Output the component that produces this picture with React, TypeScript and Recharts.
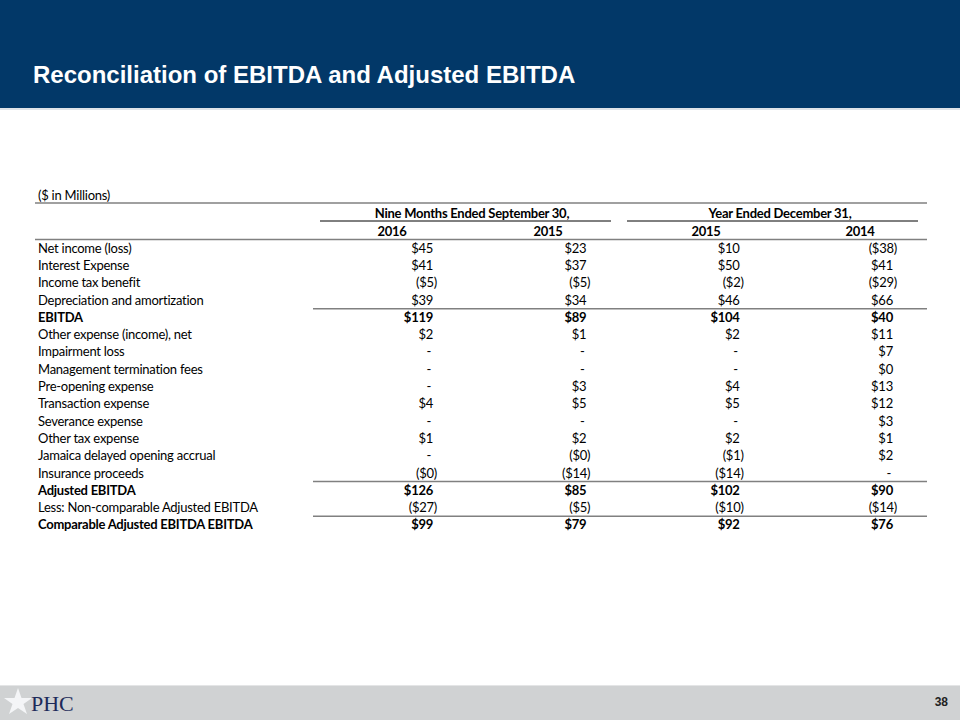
import React from "react";
import { ScatterChart, Scatter, XAxis, YAxis, ReferenceLine } from "recharts";

const rowLabels = [
  "Net income (loss)",
  "Interest Expense",
  "Income tax benefit",
  "Depreciation and amortization",
  "EBITDA",
  "Other expense (income), net",
  "Impairment loss",
  "Management termination fees",
  "Pre-opening expense",
  "Transaction expense",
  "Severance expense",
  "Other tax expense",
  "Jamaica delayed opening accrual",
  "Insurance proceeds",
  "Adjusted EBITDA",
  "Less: Non-comparable Adjusted EBITDA",
  "Comparable Adjusted EBITDA EBITDA",
];
const totalRows = ["EBITDA", "Adjusted EBITDA", "Comparable Adjusted EBITDA EBITDA"];
const ruledRows = ["EBITDA", "Adjusted EBITDA", "Comparable Adjusted EBITDA EBITDA"];

// $ in millions; null = "-"
const nineMonths2016 = [45, 41, -5, 39, 119, 2, null, null, null, 4, null, 1, null, -0.3, 126, -27, 99];
const nineMonths2015 = [23, 37, -5, 34, 89, 1, null, null, 3, 5, null, 2, -0.3, -14, 85, -5, 79];
const year2015 = [10, 50, -2, 46, 104, 2, null, null, 4, 5, null, 2, -1, -14, 102, -10, 92];
const year2014 = [-38, 41, -29, 66, 40, 11, 7, 0.3, 13, 12, 3, 1, 2, null, 90, -14, 76];

const columnYears = ["2016", "2015", "2015", "2014"];
const groupTitles = ["Nine Months Ended September 30,", "Year Ended December 31,"];
const unitsNote = "($ in Millions)";
const slideTitle = "Reconciliation of EBITDA and Adjusted EBITDA";
const pageNumber = "38";

const columns = [nineMonths2016, nineMonths2015, year2015, year2014];

const FONT = "Lato, 'Open Sans', sans-serif";
const FS = 13;
const LS = -0.25;

const fmt = (v: number | null) => {
  if (v == null) return "-";
  const r = Math.round(Math.abs(v));
  return v < 0 ? `($${r})` : `$${r}`;
};

const CellText = (props: any) => {
  const { cx, cy, payload } = props;
  const v = payload.value as number | null;
  const bold = payload.bold;
  if (v == null) {
    return (
      <text x={cx - 4} y={cy} dy="0.35em" textAnchor="middle" fontFamily={FONT} fontSize={FS} fill="#000">
        -
      </text>
    );
  }
  const neg = v < 0;
  return (
    <text
      x={neg ? cx + 4 : cx}
      y={cy}
      dy="0.35em"
      textAnchor="end"
      fontFamily={FONT}
      fontSize={FS}
      letterSpacing={LS}
      fontWeight={bold ? 700 : 400}
      fill="#000"
    >
      {fmt(v)}
    </text>
  );
};

const RowTick = (props: any) => {
  const { y, payload } = props;
  const bold = totalRows.includes(payload.value);
  return (
    <text
      x={38}
      y={y}
      dy="0.35em"
      textAnchor="start"
      fontFamily={FONT}
      fontSize={FS}
      letterSpacing={LS}
      fontWeight={bold ? 700 : 400}
      fill="#000"
    >
      {payload.value}
    </text>
  );
};

export default function App() {
  const seriesData = columns.map((col, ci) =>
    col.map((v, ri) => ({ col: ci, row: rowLabels[ri], value: v, bold: totalRows.includes(rowLabels[ri]) }))
  );

  return (
    <div style={{ position: "absolute", left: 0, top: 0, width: 960, height: 720, background: "#fff", overflow: "hidden" }}>
      {/* header band */}
      <div style={{ position: "absolute", left: 0, top: 0, width: 960, height: 108, background: "#023868" }} />
      <div style={{ position: "absolute", left: 0, top: 108, width: 960, height: 2, background: "#dfe3e8" }} />
      <div
        style={{
          position: "absolute",
          left: 33,
          top: 60,
          color: "#fff",
          fontFamily: "'Liberation Sans', Arial, sans-serif",
          fontWeight: 700,
          fontSize: 24,
          lineHeight: "30px",
          whiteSpace: "nowrap",
        }}
      >
        {slideTitle}
      </div>

      {/* footer band */}
      <div style={{ position: "absolute", left: 0, top: 685, width: 960, height: 35, background: "#d0d2d3", borderTop: "1px solid #e4e5e6" }} />

      <div style={{ position: "absolute", left: 0, top: 0 }}>
        <ScatterChart width={960} height={720} margin={{ top: 239.5, right: 33, bottom: 186.5, left: 0 }}>
          <XAxis dataKey="col" type="number" domain={[-0.783, 3.222]} allowDataOverflow hide />
          <YAxis
            dataKey="row"
            type="category"
            allowDuplicatedCategory={false}
            reversed
            width={313}
            interval={0}
            tick={<RowTick />}
            tickLine={false}
            axisLine={false}
          />
          {ruledRows.map((r) => (
            <ReferenceLine key={r} y={r} position="start" stroke="#808080" strokeWidth={1.5} />
          ))}
          {seriesData.map((d, i) => (
            <Scatter key={i} data={d} isAnimationActive={false} shape={<CellText />} />
          ))}
        </ScatterChart>
      </div>

      {/* table header and footer decorations */}
      <svg width={960} height={720} style={{ position: "absolute", left: 0, top: 0, pointerEvents: "none" }}>
        <text x={38} y={195} dy="0.35em" fontFamily={FONT} fontSize={FS} letterSpacing={LS} fill="#000">
          {unitsNote}
        </text>
        <line x1={35} x2={927} y1={203} y2={203} stroke="#808080" strokeWidth={1.5} />
        <text x={472} y={213} dy="0.35em" textAnchor="middle" fontFamily={FONT} fontSize={FS} letterSpacing={LS} fontWeight={700} fill="#000">
          {groupTitles[0]}
        </text>
        <text x={780} y={213} dy="0.35em" textAnchor="middle" fontFamily={FONT} fontSize={FS} letterSpacing={LS} fontWeight={700} fill="#000">
          {groupTitles[1]}
        </text>
        <line x1={320} x2={611} y1={221} y2={221} stroke="#000" strokeWidth={1} />
        <line x1={627} x2={918} y1={221} y2={221} stroke="#000" strokeWidth={1} />
        {columnYears.map((y, i) => (
          <text
            key={i}
            x={[392, 548, 706, 860][i]}
            y={231}
            dy="0.35em"
            textAnchor="middle"
            fontFamily={FONT}
            fontSize={FS}
            letterSpacing={LS}
            fontWeight={700}
            fill="#000"
          >
            {y}
          </text>
        ))}
        <line x1={35} x2={927} y1={239.5} y2={239.5} stroke="#808080" strokeWidth={1.5} />

        {/* logo */}
        <polygon
          points="18,688 21.5,698 32,698 23.5,704 27,714 18,708 9,714 12.5,704 4,698 14.5,698"
          fill="#f4f5f7"
        />
        <text x={31} y={711} fontFamily="'Liberation Serif', 'DejaVu Serif', serif" fontSize={22} fill="#1d2a5a">
          PHC
        </text>
        <text x={948} y={702} dy="0.35em" textAnchor="end" fontFamily="'Liberation Sans', Arial, sans-serif" fontSize={12} fontWeight={700} fill="#222">
          {pageNumber}
        </text>
      </svg>
    </div>
  );
}
